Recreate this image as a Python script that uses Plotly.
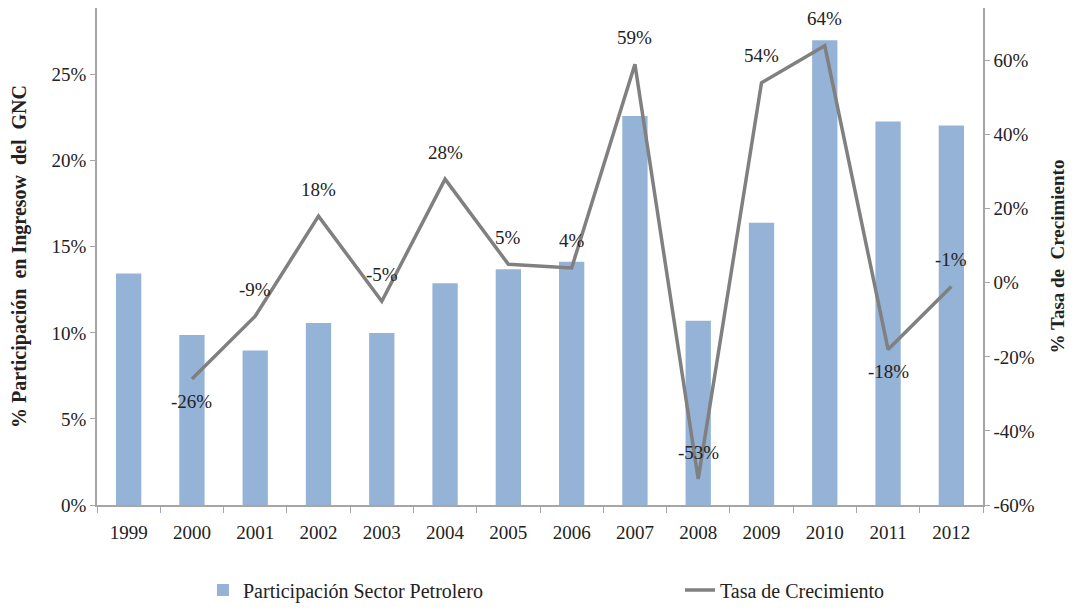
import plotly.graph_objects as go

years = ["1999", "2000", "2001", "2002", "2003", "2004", "2005",
         "2006", "2007", "2008", "2009", "2010", "2011", "2012"]
participacion = [13.45, 9.87, 8.97, 10.57, 9.99, 12.88, 13.7,
                 14.13, 22.6, 10.7, 16.4, 27.0, 22.27, 22.05]
tasa_years = years[1:]
tasa = [-26, -9, 18, -5, 28, 5, 4, 59, -53, 54, 64, -18, -1]
tasa_labels = ["-26%", "-9%", "18%", "-5%", "28%", "5%", "4%",
               "59%", "-53%", "54%", "64%", "-18%", "-1%"]
label_above = [False, True, True, True, True, True, True,
               True, True, True, True, False, True]

left_ticks = [0, 5, 10, 15, 20, 25]
left_labels = ["0%", "5%", "10%", "15%", "20%", "25%"]
right_ticks = [-60, -40, -20, 0, 20, 40, 60]
right_labels = ["-60%", "-40%", "-20%", "0%", "20%", "40%", "60%"]

FONT = "Liberation Serif"
AX = "#a6a6a6"
TXT = "#222222"

fig = go.Figure()
fig.add_trace(go.Bar(
    x=years, y=participacion, name="Participación Sector Petrolero",
    marker=dict(color="#95b3d7", line=dict(width=0)), width=0.4,
    yaxis="y", legend="legend",
))
fig.add_trace(go.Scatter(
    x=tasa_years, y=tasa, name="Tasa de Crecimiento", mode="lines",
    line=dict(color="#808080", width=3.5),
    yaxis="y2", legend="legend2",
))

for xv, yv, lab, above in zip(tasa_years, tasa, tasa_labels, label_above):
    fig.add_annotation(
        x=years.index(xv), y=yv, xref="x", yref="y2", text=lab,
        showarrow=False, yshift=27 if above else -22, yanchor="middle",
        font=dict(family=FONT, size=19, color=TXT),
    )

fig.update_layout(
    width=1068, height=602,
    margin=dict(l=89, r=93, t=0, b=102),
    paper_bgcolor="white", plot_bgcolor="white",
    font=dict(family=FONT, size=19, color=TXT),
    bargap=0.6,
    showlegend=True,
    legend=dict(x=0.1196, xanchor="left", y=-0.171, yanchor="middle",
                font=dict(family=FONT, size=20), bgcolor="rgba(0,0,0,0)"),
    legend2=dict(x=0.658, xanchor="left", y=-0.171, yanchor="middle",
                 font=dict(family=FONT, size=20), bgcolor="rgba(0,0,0,0)"),
    xaxis=dict(type="category", range=[-0.5, 13.5], showline=True,
               linecolor=AX, linewidth=1.5, ticks="outside",
               tickson="boundaries", ticklen=6, tickcolor=AX,
               showgrid=False, automargin=False, ticklabelstandoff=9,
               tickfont=dict(family=FONT, size=19)),
    yaxis=dict(range=[0, 28.87], tickvals=left_ticks, ticktext=left_labels,
               showline=True, linecolor=AX, linewidth=1.5, ticks="outside",
               ticklen=5, tickcolor=AX, showgrid=False, zeroline=False,
               automargin=False, tickfont=dict(family=FONT, size=19),
               title=dict(text="<b>% Participación  en Ingresow  del  GNC</b>",
                          font=dict(family=FONT, size=20), standoff=26)),
    yaxis2=dict(range=[-60, 74.2], tickvals=right_ticks,
                ticktext=right_labels, overlaying="y", side="right",
                showline=True, linecolor=AX, linewidth=1.5, ticks="outside",
                ticklen=5, tickcolor=AX, showgrid=False, zeroline=False,
                automargin=False, tickfont=dict(family=FONT, size=19),
                title=dict(text="<b>% Tasa de  Crecimiento</b>",
                           font=dict(family=FONT, size=19), standoff=17)),
)

fig.write_html("out.html")
